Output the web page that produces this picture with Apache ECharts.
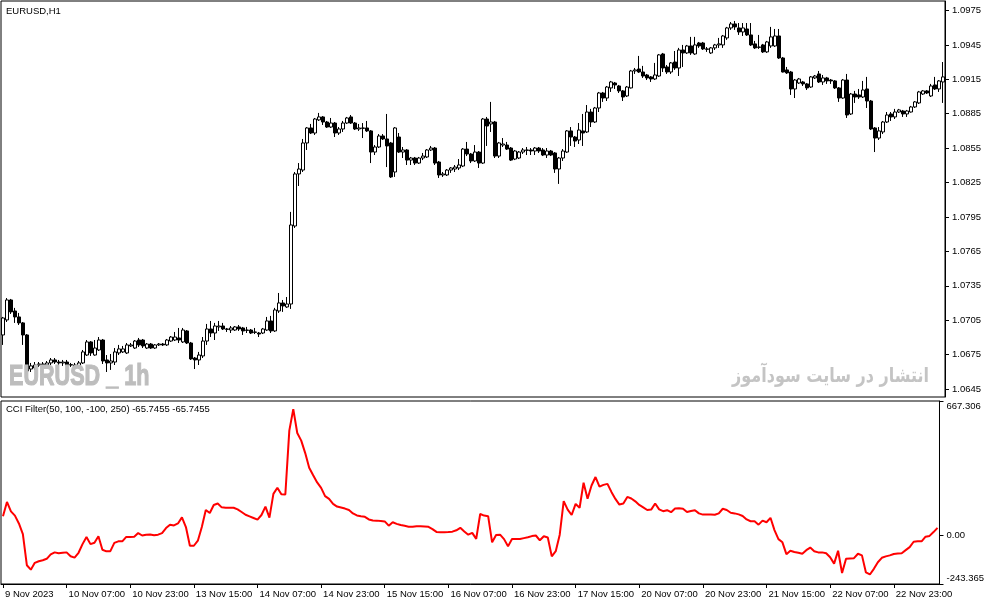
<!DOCTYPE html>
<html>
<head>
<meta charset="utf-8">
<script src="https://cdn.jsdelivr.net/npm/echarts@6/dist/echarts.min.js"></script>
<style>
html,body{margin:0;padding:0;background:#fff;}
#chart{width:987px;height:605px;}
</style>
</head>
<body>
<div id="chart"></div>
<script>
// EURUSD H1 bars, 9 Nov 15:00 .. 23 Nov 10:00
const open = [
1.06921,1.07052,1.07226,1.07130,1.07078,1.07026,1.06921,1.06624,1.06633,1.06659,
1.06668,1.06659,1.06677,1.06703,1.06685,1.06677,1.06685,1.06659,1.06659,1.06642,
1.06677,1.06746,1.06860,1.06746,1.06790,1.06877,1.06703,1.06677,1.06685,1.06764,
1.06773,1.06764,1.06825,1.06807,1.06877,1.06877,1.06807,1.06842,1.06807,1.06834,
1.06842,1.06834,1.06868,1.06877,1.06895,1.06860,1.06956,1.06851,1.06720,1.06703,
1.06738,1.06868,1.06973,1.06938,1.06991,1.06999,1.06973,1.06964,1.06964,1.06991,
1.06982,1.06964,1.06964,1.06947,1.06938,1.06938,1.06964,1.07043,1.06956,1.07130,
1.07200,1.07165,1.07191,1.07871,1.08325,1.08359,1.08595,1.08726,1.08682,1.08796,
1.08822,1.08778,1.08734,1.08769,1.08682,1.08717,1.08769,1.08822,1.08769,1.08717,
1.08726,1.08726,1.08700,1.08516,1.08560,1.08656,1.08630,1.08595,1.08342,1.08647,
1.08516,1.08534,1.08446,1.08464,1.08420,1.08464,1.08473,1.08534,1.08551,1.08429,
1.08316,1.08316,1.08359,1.08368,1.08377,1.08394,1.08542,1.08499,1.08438,1.08516,
1.08420,1.08804,1.08761,1.08778,1.08481,1.08577,1.08577,1.08551,1.08455,1.08464,
1.08516,1.08534,1.08534,1.08525,1.08551,1.08534,1.08490,1.08525,1.08508,1.08368,
1.08464,1.08516,1.08700,1.08647,1.08621,1.08700,1.08691,1.08865,1.08778,1.08900,
1.09031,1.08987,1.09075,1.09118,1.09092,1.09049,1.09005,1.09075,1.09223,1.09240,
1.09214,1.09188,1.09171,1.09153,1.09179,1.09371,1.09258,1.09214,1.09301,1.09249,
1.09406,1.09380,1.09441,1.09371,1.09467,1.09467,1.09415,1.09380,1.09424,1.09450,
1.09450,1.09511,1.09598,1.09633,1.09598,1.09563,1.09589,1.09537,1.09459,1.09432,
1.09450,1.09389,1.09441,1.09441,1.09528,1.09336,1.09232,1.09214,1.09066,1.09118,
1.09127,1.09110,1.09083,1.09162,1.09197,1.09127,1.09162,1.09144,1.09136,1.09075,
1.08987,1.09144,1.08848,1.09022,1.09014,1.08996,1.09066,1.08961,1.08726,1.08638,
1.08691,1.08778,1.08848,1.08822,1.08865,1.08874,1.08848,1.08865,1.08909,1.08944,
1.09022,1.09049,1.09005,1.09101,1.09066,1.09127
];
const close = [
1.07069,1.07226,1.07122,1.07078,1.07026,1.06921,1.06607,1.06651,1.06659,1.06668,
1.06659,1.06677,1.06703,1.06685,1.06677,1.06685,1.06659,1.06662,1.06642,1.06677,
1.06773,1.06860,1.06764,1.06807,1.06877,1.06694,1.06677,1.06694,1.06773,1.06799,
1.06799,1.06834,1.06834,1.06868,1.06834,1.06825,1.06842,1.06807,1.06834,1.06842,
1.06834,1.06877,1.06903,1.06903,1.06877,1.06964,1.06851,1.06712,1.06703,1.06746,
1.06868,1.06973,1.06938,1.06999,1.06999,1.06973,1.06970,1.06982,1.06991,1.06973,
1.06956,1.06961,1.06938,1.06944,1.06929,1.06973,1.07043,1.06956,1.07139,1.07200,
1.07174,1.07191,1.07880,1.08325,1.08368,1.08595,1.08726,1.08682,1.08804,1.08822,
1.08778,1.08734,1.08769,1.08682,1.08717,1.08769,1.08813,1.08769,1.08717,1.08726,
1.08723,1.08700,1.08516,1.08560,1.08656,1.08630,1.08569,1.08299,1.08726,1.08516,
1.08534,1.08446,1.08464,1.08420,1.08464,1.08481,1.08534,1.08551,1.08420,1.08316,
1.08325,1.08359,1.08377,1.08385,1.08403,1.08542,1.08499,1.08438,1.08516,1.08420,
1.08804,1.08743,1.08778,1.08481,1.08595,1.08586,1.08542,1.08446,1.08525,1.08516,
1.08534,1.08531,1.08525,1.08551,1.08525,1.08490,1.08525,1.08490,1.08368,1.08464,
1.08525,1.08700,1.08647,1.08612,1.08708,1.08682,1.08865,1.08778,1.08900,1.09031,
1.08987,1.09083,1.09127,1.09101,1.09049,1.08996,1.09083,1.09223,1.09232,1.09214,
1.09179,1.09162,1.09153,1.09188,1.09363,1.09249,1.09214,1.09293,1.09249,1.09406,
1.09380,1.09441,1.09380,1.09450,1.09441,1.09415,1.09412,1.09424,1.09450,1.09459,
1.09528,1.09598,1.09633,1.09607,1.09563,1.09598,1.09537,1.09450,1.09424,1.09429,
1.09389,1.09476,1.09520,1.09528,1.09336,1.09214,1.09206,1.09066,1.09144,1.09153,
1.09110,1.09075,1.09171,1.09179,1.09127,1.09162,1.09136,1.09136,1.09075,1.08987,
1.09144,1.08839,1.09022,1.08996,1.08996,1.09057,1.08961,1.08717,1.08638,1.08700,
1.08778,1.08839,1.08822,1.08865,1.08883,1.08848,1.08874,1.08909,1.08953,1.09040,
1.09049,1.09031,1.09092,1.09066,1.09136,1.09171
];
const low = [
1.06834,1.07034,1.07104,1.07026,1.07008,1.06834,1.06581,1.06598,1.06616,1.06642,
1.06642,1.06642,1.06659,1.06668,1.06659,1.06651,1.06651,1.06642,1.06624,1.06624,
1.06668,1.06738,1.06738,1.06740,1.06781,1.06668,1.06598,1.06616,1.06659,1.06746,
1.06764,1.06755,1.06816,1.06799,1.06816,1.06807,1.06799,1.06799,1.06799,1.06825,
1.06825,1.06825,1.06860,1.06868,1.06851,1.06851,1.06842,1.06703,1.06624,1.06659,
1.06720,1.06834,1.06903,1.06877,1.06956,1.06964,1.06947,1.06938,1.06956,1.06956,
1.06921,1.06938,1.06929,1.06929,1.06903,1.06929,1.06956,1.06938,1.06947,1.07113,
1.07122,1.07157,1.07148,1.07854,1.08220,1.08342,1.08534,1.08673,1.08665,1.08787,
1.08752,1.08726,1.08726,1.08647,1.08665,1.08691,1.08761,1.08761,1.08708,1.08700,
1.08638,1.08691,1.08420,1.08490,1.08551,1.08621,1.08385,1.08290,1.08299,1.08508,
1.08464,1.08403,1.08403,1.08403,1.08412,1.08446,1.08464,1.08525,1.08403,1.08290,
1.08299,1.08307,1.08334,1.08342,1.08359,1.08385,1.08481,1.08420,1.08429,1.08377,
1.08412,1.08569,1.08691,1.08464,1.08464,1.08560,1.08534,1.08438,1.08446,1.08455,
1.08499,1.08490,1.08490,1.08490,1.08508,1.08481,1.08464,1.08481,1.08334,1.08238,
1.08438,1.08508,1.08569,1.08560,1.08586,1.08569,1.08682,1.08734,1.08769,1.08865,
1.08953,1.08961,1.09040,1.09066,1.09031,1.08961,1.08996,1.09070,1.09197,1.09206,
1.09162,1.09144,1.09127,1.09144,1.09171,1.09214,1.09197,1.09197,1.09232,1.09179,
1.09258,1.09371,1.09363,1.09363,1.09424,1.09406,1.09389,1.09371,1.09406,1.09424,
1.09424,1.09494,1.09581,1.09581,1.09537,1.09528,1.09528,1.09441,1.09415,1.09415,
1.09380,1.09380,1.09424,1.09432,1.09328,1.09210,1.09197,1.09014,1.08987,1.09110,
1.09092,1.09057,1.09075,1.09153,1.09118,1.09101,1.09110,1.09110,1.09066,1.08953,
1.08980,1.08813,1.08839,1.08944,1.08979,1.08987,1.08900,1.08708,1.08516,1.08621,
1.08673,1.08769,1.08787,1.08804,1.08857,1.08822,1.08822,1.08860,1.08900,1.08935,
1.09014,1.09022,1.08996,1.09057,1.09040,1.08944
];
const high = [
1.07078,1.07243,1.07235,1.07157,1.07113,1.07034,1.06929,1.06677,1.06685,1.06685,
1.06685,1.06694,1.06720,1.06720,1.06703,1.06703,1.06703,1.06677,1.06677,1.06694,
1.06790,1.06877,1.06868,1.06877,1.06903,1.06886,1.06746,1.06755,1.06807,1.06834,
1.06825,1.06851,1.06851,1.06877,1.06895,1.06886,1.06851,1.06851,1.06842,1.06851,
1.06851,1.06886,1.06912,1.06947,1.06982,1.06982,1.06964,1.06860,1.06729,1.06773,
1.06903,1.07017,1.07043,1.07026,1.07043,1.07026,1.06982,1.06999,1.06999,1.07008,
1.06991,1.06991,1.06973,1.06982,1.06947,1.06982,1.07078,1.07087,1.07157,1.07287,
1.07226,1.07252,1.07994,1.08342,1.08420,1.08630,1.08734,1.08761,1.08813,1.08857,
1.08830,1.08787,1.08813,1.08778,1.08734,1.08787,1.08822,1.08839,1.08778,1.08761,
1.08769,1.08787,1.08708,1.08577,1.08673,1.08673,1.08848,1.08604,1.08734,1.08682,
1.08560,1.08542,1.08473,1.08473,1.08473,1.08508,1.08542,1.08569,1.08560,1.08438,
1.08342,1.08368,1.08385,1.08403,1.08455,1.08551,1.08604,1.08508,1.08577,1.08525,
1.08813,1.08822,1.08953,1.08787,1.08604,1.08638,1.08604,1.08560,1.08534,1.08525,
1.08551,1.08560,1.08551,1.08560,1.08560,1.08551,1.08551,1.08534,1.08516,1.08473,
1.08542,1.08708,1.08734,1.08656,1.08769,1.08848,1.08926,1.08892,1.08909,1.09040,
1.09040,1.09092,1.09136,1.09127,1.09101,1.09057,1.09092,1.09232,1.09249,1.09354,
1.09267,1.09197,1.09179,1.09293,1.09371,1.09380,1.09275,1.09301,1.09397,1.09424,
1.09450,1.09450,1.09520,1.09520,1.09476,1.09476,1.09432,1.09432,1.09459,1.09511,
1.09537,1.09607,1.09650,1.09659,1.09641,1.09641,1.09641,1.09641,1.09485,1.09537,
1.09459,1.09485,1.09607,1.09589,1.09589,1.09345,1.09258,1.09223,1.09153,1.09162,
1.09136,1.09118,1.09179,1.09188,1.09223,1.09188,1.09171,1.09153,1.09144,1.09083,
1.09153,1.09197,1.09031,1.09049,1.09066,1.09136,1.09171,1.08970,1.08734,1.08734,
1.08787,1.08865,1.08865,1.08892,1.08892,1.08883,1.08883,1.08918,1.08961,1.09049,
1.09057,1.09057,1.09110,1.09171,1.09144,1.09301
];
// CCI Filter(50, 100, -100, 250), one value per bar
const cci = [
94,165,118,97,58,5,-150,-172,-138,-130,
-125,-118,-96,-86,-90,-88,-86,-105,-112,-88,
-45,-9,-45,-38,-6,-73,-81,-80,-39,-31,
-31,-9,-9,-8,10,-2,2,3,-1,2,
10,35,52,48,58,88,40,-53,-53,-28,
40,125,110,150,157,138,136,136,136,128,
115,101,93,85,77,100,142,87,205,236,
203,202,520,627,508,470,408,335,298,262,
235,194,180,155,142,137,132,125,108,98,
94,91,78,73,72,70,68,47,64,56,
50,46,42,41,44,44,43,41,30,16,
14,14,15,17,24,36,18,2,11,-19,
105,97,94,-36,0,2,-20,-56,-19,-19,
-19,-15,-11,-5,-2,-26,-6,-12,-106,-80,
2,169,127,100,155,136,261,181,247,289,
241,250,255,215,180,152,157,190,182,168,
150,138,125,127,157,128,119,124,114,132,
134,131,115,120,124,108,102,102,102,101,
108,131,125,111,108,103,95,78,69,69,
52,72,64,86,25,-20,-36,-95,-78,-84,
-88,-93,-75,-62,-80,-86,-86,-90,-110,-142,
-78,-189,-118,-116,-115,-93,-101,-186,-196,-168,
-135,-113,-106,-101,-94,-92,-90,-75,-60,-33,
-31,-31,-8,-4,15,36
];

const tickLabels = [
"9 Nov 2023","10 Nov 07:00","10 Nov 23:00","13 Nov 15:00","14 Nov 07:00",
"14 Nov 23:00","15 Nov 15:00","16 Nov 07:00","16 Nov 23:00","17 Nov 15:00",
"20 Nov 07:00","20 Nov 23:00","21 Nov 15:00","22 Nov 07:00","22 Nov 23:00"
];
const priceTicks = [1.0645,1.0675,1.0705,1.0735,1.0765,1.0795,1.0825,1.0855,1.0885,1.0915,1.0945,1.0975];
const cciTicks = [-243.365, 0, 667.306];
const cciTickLabels = ["-243.365", "0.00", "667.306"];

// hourly bar times, weekend skipped
const categories = [];
let t = Date.UTC(2023, 10, 9, 15);
while (categories.length < open.length) {
    const d = new Date(t);
    t += 3600000;
    if (d.getUTCDay() === 6 || d.getUTCDay() === 0) continue;
    categories.push(d.getUTCDate() + " Nov " + String(d.getUTCHours()).padStart(2, "0") + ":00");
}

const candles = open.map((o, i) => [o, close[i], low[i], high[i]]);

const FONT = "Liberation Sans";
const STEP = 16;

const chart = echarts.init(document.getElementById("chart"));

chart.setOption({
    animation: false,
    backgroundColor: "#fff",
    grid: [
        {left: 1, top: 1, width: 944, height: 396, show: true, borderColor: "#000", borderWidth: 1},
        {left: 1, top: 401, width: 944, height: 183, show: true, borderColor: "#000", borderWidth: 1}
    ],
    xAxis: [
        {
            type: "category", gridIndex: 0, data: categories, show: false
        },
        {
            type: "category", gridIndex: 1, data: categories,
            axisLine: {show: true, onZero: false, lineStyle: {color: "#000", width: 1}},
            axisTick: {show: true, alignWithLabel: true, interval: STEP - 1, length: 4, lineStyle: {color: "#000"}},
            axisLabel: {
                interval: STEP - 1,
                align: "left",
                margin: 5,
                padding: [0, 0, 0, 2],
                color: "#000",
                fontFamily: FONT,
                fontSize: 9.5,
                formatter: (v, i) => tickLabels[Math.round(i / STEP)] || ""
            },
            splitLine: {show: false}
        }
    ],
    yAxis: [
        {
            type: "value", gridIndex: 0, position: "right",
            min: 1.0638, max: 1.09833,
            axisLine: {show: true, lineStyle: {color: "#000"}},
            axisTick: {show: true, length: 4, customValues: priceTicks, lineStyle: {color: "#000"}},
            axisLabel: {
                customValues: priceTicks,
                margin: 7,
                color: "#000",
                fontFamily: FONT,
                fontSize: 9.5,
                formatter: v => v.toFixed(4)
            },
            splitLine: {show: false}
        },
        {
            type: "value", gridIndex: 1, position: "right",
            min: cciTicks[0], max: cciTicks[2],
            axisLine: {show: true, lineStyle: {color: "#000"}},
            axisTick: {show: true, length: 4, customValues: cciTicks, lineStyle: {color: "#000"}},
            axisLabel: {
                customValues: cciTicks,
                margin: 7,
                color: "#000",
                fontFamily: FONT,
                fontSize: 9.5,
                formatter: v => {
                    const k = cciTicks.indexOf(v);
                    if (k === 2) return "{t|" + cciTickLabels[k] + "}";
                    if (k === 0) return "{b|" + cciTickLabels[k] + "}";
                    return cciTickLabels[1];
                },
                rich: {
                    t: {padding: [11, 0, 0, 0], color: "#000", fontFamily: FONT, fontSize: 9.5},
                    b: {padding: [0, 0, 12, 0], color: "#000", fontFamily: FONT, fontSize: 9.5}
                }
            },
            splitLine: {show: false}
        }
    ],
    series: [
        {
            type: "candlestick",
            xAxisIndex: 0,
            yAxisIndex: 0,
            data: candles,
            barWidth: 3,
            itemStyle: {
                color: "#fff",
                color0: "#000",
                borderColor: "#000",
                borderColor0: "#000",
                borderColorDoji: "#000",
                borderWidth: 1
            },
            emphasis: {disabled: true}
        },
        {
            type: "line",
            xAxisIndex: 1,
            yAxisIndex: 1,
            data: cci,
            symbol: "none",
            lineStyle: {color: "#ff0000", width: 2},
            emphasis: {disabled: true}
        }
    ],
    graphic: [
        {
            type: "text", x: 6, y: 11, z: 50,
            style: {text: "EURUSD,H1", font: "9.5px \"Liberation Sans\"", fill: "#000", verticalAlign: "middle"}
        },
        {
            type: "text", x: 6, y: 409, z: 50,
            style: {text: "CCI Filter(50, 100, -100, 250) -65.7455 -65.7455", font: "9.5px \"Liberation Sans\"", fill: "#000", verticalAlign: "middle"}
        },
        {
            type: "text", x: 9, y: 377, scaleX: 0.72, z: 60,
            style: {
                text: "EURUSD _ 1h", font: "bold 30px \"Liberation Sans\"", fill: "#bdbdbd",
                stroke: "#bdbdbd", lineWidth: 1.2, verticalAlign: "middle"
            }
        },
        {
            type: "text", x: 929, y: 377, scaleX: 0.8, z: 60,
            style: {text: "انتشار در سایت سودآموز", font: "bold 20px \"DejaVu Sans\"", fill: "#c4c4c4", align: "right", verticalAlign: "middle"}
        }
    ]
});
</script>
</body>
</html>
